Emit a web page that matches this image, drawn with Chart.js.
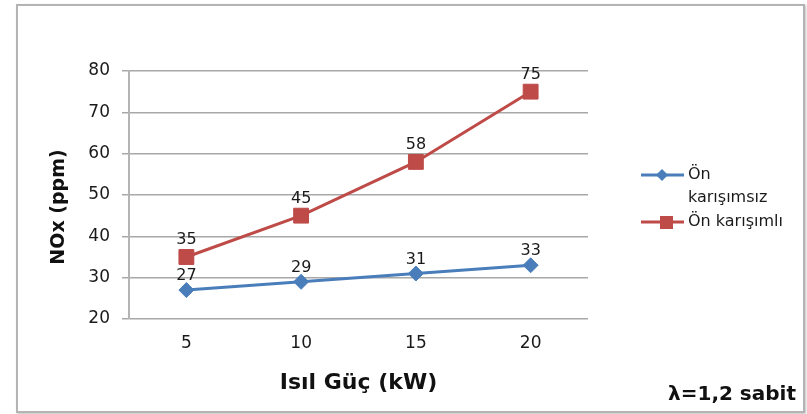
<!DOCTYPE html>
<html>
<head>
<meta charset="utf-8">
<script src="https://cdn.jsdelivr.net/npm/chart.js"></script>
<style>
    html, body { margin: 0; padding: 0; background: #fff; }
    #wrap { position: relative; width: 807px; height: 414px; overflow: hidden; }
    #frame {
        position: absolute; left: 16px; top: 4px; width: 785px; height: 405px;
        border: 2px solid #b4b4b4; box-shadow: 1px 1px 2px rgba(0,0,0,0.25);
    }
    #chart { position: absolute; left: 0; top: 0; }
    #note {
        position: absolute; right: 11px; top: 381px;
        font-family: "DejaVu Sans", sans-serif; font-weight: bold; font-size: 20px; color: #111;
    }
</style>
</head>
<body>
<div id="wrap">
    <div id="frame"></div>
    <canvas id="chart" width="807" height="414"></canvas>
    <div id="note">λ=1,2 sabit</div>
</div>
<script>
// Veriler
const categories = ['5', '10', '15', '20'];
const onKarisimsiz = [27, 29, 31, 33];
const onKarisimli = [35, 45, 58, 75];
const seriesNames = ['Ön karışımsız', 'Ön karışımlı'];
const yTicks = [20, 30, 40, 50, 60, 70, 80];

const BLUE = '#4A7EBB';
const RED = '#BE4B48';
const FONT = '"DejaVu Sans", sans-serif';
const TEXT = '#1a1a1a';

// Nokta üstü değer etiketleri
const valueLabels = {
    id: 'valueLabels',
    afterDatasetsDraw(chart) {
        const ctx = chart.ctx;
        ctx.save();
        ctx.font = '16px ' + FONT;
        ctx.fillStyle = TEXT;
        ctx.textAlign = 'center';
        ctx.textBaseline = 'middle';
        chart.data.datasets.forEach((ds, i) => {
            const meta = chart.getDatasetMeta(i);
            const off = i === 0 ? 14 : 17;
            meta.data.forEach((pt, j) => {
                ctx.fillText(String(ds.data[j]), pt.x, pt.y - off);
            });
        });
        ctx.restore();
    }
};

// Y ekseni başlığı (Excel'deki gibi biraz aşağıda)
const yTitle = {
    id: 'yTitle',
    afterDraw(chart) {
        const ctx = chart.ctx;
        ctx.save();
        ctx.translate(59, 207);
        ctx.rotate(-Math.PI / 2);
        ctx.font = 'bold 19px ' + FONT;
        ctx.fillStyle = '#111';
        ctx.textAlign = 'center';
        ctx.textBaseline = 'middle';
        ctx.fillText('NOx (ppm)', 0, 0);
        ctx.restore();
    }
};

// Sağ taraftaki açıklama
const sideLegend = {
    id: 'sideLegend',
    afterDraw(chart) {
        const ctx = chart.ctx;
        ctx.save();
        ctx.font = '16px ' + FONT;
        ctx.textBaseline = 'middle';
        ctx.lineWidth = 3;

        // mavi
        ctx.strokeStyle = BLUE;
        ctx.beginPath(); ctx.moveTo(641, 175); ctx.lineTo(684, 175); ctx.stroke();
        ctx.fillStyle = BLUE;
        ctx.beginPath();
        ctx.moveTo(662 - 6, 175); ctx.lineTo(662, 169); ctx.lineTo(662 + 6, 175); ctx.lineTo(662, 181);
        ctx.closePath(); ctx.fill();

        // kırmızı
        ctx.strokeStyle = RED;
        ctx.beginPath(); ctx.moveTo(641, 222); ctx.lineTo(684, 222); ctx.stroke();
        ctx.fillStyle = RED;
        ctx.fillRect(660, 216, 13, 13);

        ctx.fillStyle = TEXT;
        ctx.fillText('Ön', 688, 175);
        ctx.fillText('karışımsız', 688, 198);
        ctx.fillText(seriesNames[1], 688, 222);
        ctx.restore();
    }
};

new Chart(document.getElementById('chart'), {
    type: 'line',
    data: {
        labels: categories,
        datasets: [{
            label: seriesNames[0],
            data: onKarisimsiz,
            borderColor: BLUE,
            backgroundColor: BLUE,
            borderWidth: 3,
            pointStyle: 'rectRot',
            pointRadius: 7.5,
            pointBorderWidth: 1,
            tension: 0
        }, {
            label: seriesNames[1],
            data: onKarisimli,
            borderColor: RED,
            backgroundColor: RED,
            borderWidth: 3,
            pointStyle: 'rect',
            pointRadius: 10.5,
            pointBorderWidth: 1,
            tension: 0
        }]
    },
    options: {
        responsive: false,
        animation: false,
        devicePixelRatio: 1,
        layout: { padding: { left: 0, top: 71, right: 219, bottom: 0 } },
        plugins: {
            legend: { display: false },
            tooltip: { enabled: false }
        },
        scales: {
            x: {
                offset: true,
                grid: { display: false, drawTicks: false },
                border: { display: false },
                ticks: { color: TEXT, font: { family: FONT, size: 17 }, padding: 14 },
                title: {
                    display: true,
                    text: 'Isıl Güç (kW)',
                    color: '#111',
                    font: { family: FONT, size: 22, weight: 'bold' },
                    padding: { top: 0, bottom: 18 }
                },
                afterFit(scale) { scale.height = 95; }
            },
            y: {
                min: 20,
                max: 80,
                afterBuildTicks(scale) { scale.ticks = yTicks.map(v => ({ value: v })); },
                grid: { color: '#a8a8a8', lineWidth: 1.5, tickLength: 7 },
                border: { color: '#b4b4b4', width: 2 },
                ticks: { color: TEXT, font: { family: FONT, size: 17 }, padding: 12 },
                afterFit(scale) { scale.width = 129; }
            }
        }
    },
    plugins: [valueLabels, yTitle, sideLegend]
});
</script>
</body>
</html>
